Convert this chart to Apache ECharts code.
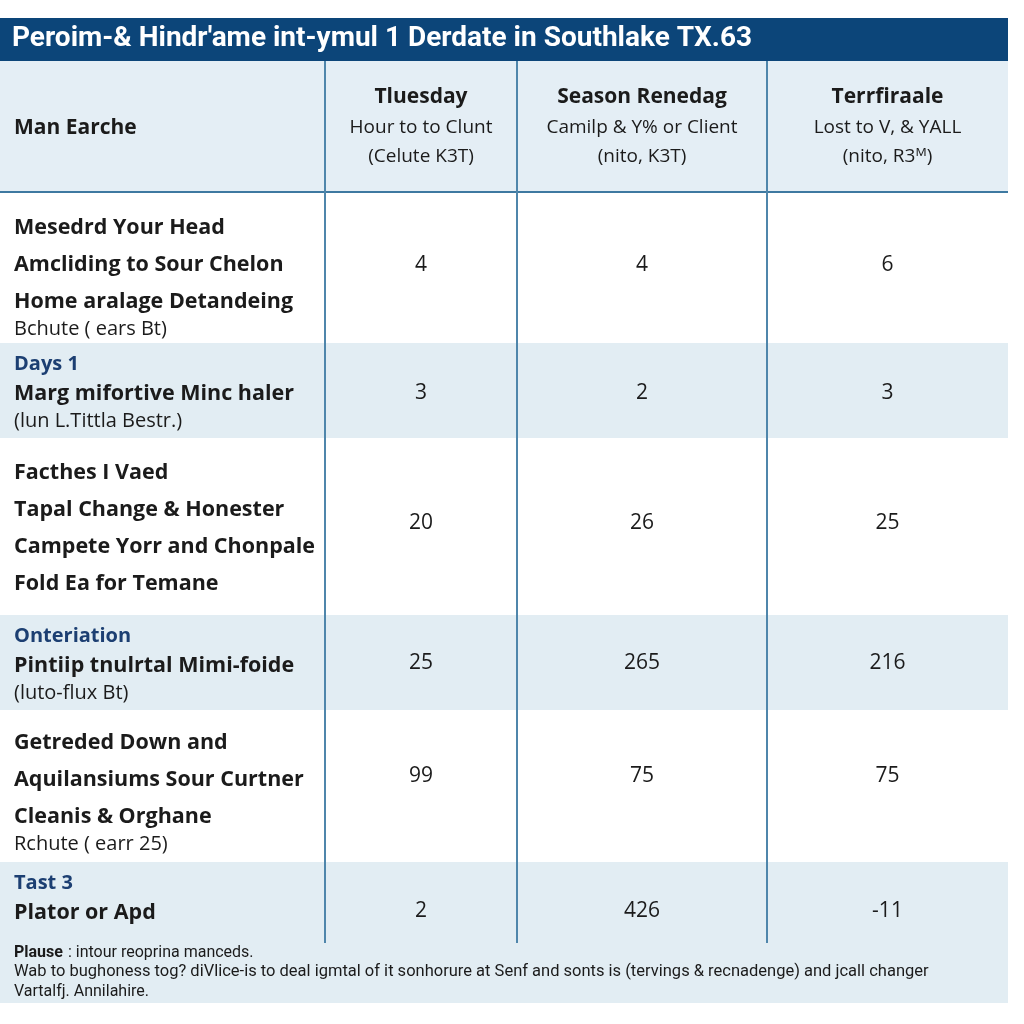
<!DOCTYPE html>
<html>
<head>
<meta charset="utf-8">
<script src="https://cdn.jsdelivr.net/npm/echarts@6/dist/echarts.min.js"></script>
<style>html,body{margin:0;padding:0;background:#fff}#c{width:1024px;height:1024px}</style>
</head>
<body>
<div id="c"></div>
<script>
// ---------- DATA ----------
const titleText = "Peroim-& Hindr'ame int-ymul 1 Derdate in Southlake TX.63";
const headerLabel = 'Man Earche';
const colNames = ['Tluesday', 'Season Renedag', 'Terrfiraale'];
const colUnits = ['Hour to to Clunt', 'Camilp & Y% or Client', 'Lost to V, & YALL'];
const colCodes = ['(Celute K3T)', '(nito, K3T)', '(nito, R3ᴹ)'];
const rowCategories = ['', 'Days 1', '', 'Onteriation', '', 'Tast 3'];
const rowLines = [
  ['Mesedrd Your Head', 'Amcliding to Sour Chelon', 'Home aralage Detandeing'],
  ['Marg mifortive Minc haler'],
  ['Facthes I Vaed', 'Tapal Change & Honester', 'Campete Yorr and Chonpale', 'Fold Ea for Temane'],
  ['Pintiip tnulrtal Mimi-foide'],
  ['Getreded Down and', 'Aquilansiums Sour Curtner', 'Cleanis & Orghane'],
  ['Plator or Apd']
];
const rowNotes = ['Bchute ( ears Bt)', '(lun L.Tittla Bestr.)', '', '(luto-flux Bt)', 'Rchute ( earr 25)', ''];
const tuesdayValues = [4, 3, 20, 25, 99, 2];
const seasonValues = [4, 2, 26, 265, 75, 426];
const terrValues = [6, 3, 25, 216, 75, -11];
const footLead = 'Plause';
const footLines = [
  ' : intour reoprina manceds.',
  'Wab to bughoness tog? diVlice-is to deal igmtal of it sonhorure at Senf and sonts is (tervings & recnadenge) and jcall changer',
  'Vartalfj. Annilahire.'
];

// ---------- LAYOUT ----------
const L = {
  colEdges: [0, 325, 517, 767, 1008],
  rowEdges: [192, 343, 438, 615, 710, 862, 945],
  valueY: [265, 393, 523, 663, 776, 911],
  firstLine: [36, 21, 35, 21, 33, 21]
};
const C = {
  title: '#0c4579', header: '#e4eef5', band: '#e2edf3', white: '#ffffff',
  line: '#4f86ab', text: '#1b1b1b', cat: '#1c3f72'
};
const SANS = '"Open Sans", "Noto Sans", sans-serif';
const NARROW = '"Liberation Sans Narrow", "Roboto", sans-serif';

const allValues = [tuesdayValues, seasonValues, terrValues];
const valueData = [];
allValues.forEach((arr, c) => arr.forEach((v, r) => valueData.push([c, r, v])));
const rowData = rowLines.map((_, r) => [r]);

function txt(x, y, text, font, fill, align) {
  return { type: 'text', style: { x, y, text, font, fill, align: align || 'left', verticalAlign: 'middle', textAlign: align || 'left', textVerticalAlign: 'middle' } };
}

const chart = echarts.init(document.getElementById('c'));
const graphics = [];
// title bar
graphics.push({ type: 'rect', shape: { x: 0, y: 18, width: 1008, height: 43 }, style: { fill: C.title } });
graphics.push(txt(12, 39, titleText, 'bold 28px ' + NARROW, '#ffffff'));
// header
graphics.push({ type: 'rect', shape: { x: 0, y: 61, width: 1008, height: 131 }, style: { fill: C.header } });
graphics.push(txt(14, 128, headerLabel, 'bold 21px ' + SANS, C.text));
colNames.forEach((n, i) => {
  const cx = (L.colEdges[i + 1] + L.colEdges[i + 2]) / 2;
  graphics.push(txt(cx, 97, n, 'bold 21px ' + SANS, C.text, 'center'));
  graphics.push(txt(cx, 128, colUnits[i], '19px ' + SANS, C.text, 'center'));
  graphics.push(txt(cx, 157, colCodes[i], '19px ' + SANS, C.text, 'center'));
});
// footer background
graphics.push({ type: 'rect', shape: { x: 0, y: 945, width: 1008, height: 58 }, style: { fill: C.band } });
graphics.push(txt(14, 953, footLead, 'bold 16px ' + NARROW, C.text));
graphics.push(txt(64, 953, footLines[0], '16px ' + NARROW, C.text));
graphics.push(txt(14, 972, footLines[1], '16.5px ' + NARROW, C.text));
graphics.push(txt(14, 992, footLines[2], '16px ' + NARROW, C.text));
// grid lines on top
const lines = [];
lines.push({ type: 'line', z: 100, shape: { x1: 0, y1: 192, x2: 1008, y2: 192 }, style: { stroke: '#3e79a1', lineWidth: 2 } });
[1, 2, 3].forEach(i => lines.push({ type: 'line', z: 100, shape: { x1: L.colEdges[i], y1: 61, x2: L.colEdges[i], y2: 943 }, style: { stroke: C.line, lineWidth: 2 } }));

chart.setOption({
  animation: false,
  backgroundColor: '#ffffff',
  grid: { left: 0, top: 0, width: 1024, height: 1024 },
  xAxis: { type: 'value', min: 0, max: 1024, show: false },
  yAxis: { type: 'value', min: 0, max: 1024, inverse: true, show: false },
  graphic: { elements: graphics.concat(lines) },
  series: [
    {
      type: 'custom', z: 1, data: rowData, silent: true,
      renderItem: function (params, api) {
        const r = api.value(0);
        const top = L.rowEdges[r], bottom = L.rowEdges[r + 1];
        const p0 = api.coord([0, top]);
        const p1 = api.coord([1008, bottom]);
        const children = [{ type: 'rect', shape: { x: p0[0], y: p0[1], width: p1[0] - p0[0], height: p1[1] - p0[1] }, style: { fill: r % 2 ? C.band : C.white } }];
        let y = top + L.firstLine[r];
        const x = api.coord([14, 0])[0];
        if (rowCategories[r]) {
          children.push(txt(x, api.coord([0, y])[1], rowCategories[r], 'bold 20px ' + SANS, C.cat));
          y += 30;
        }
        rowLines[r].forEach((t, k) => {
          if (k > 0) y += 37;
          children.push(txt(x, api.coord([0, y])[1], t, 'bold 21.5px ' + SANS, C.text));
        });
        if (rowNotes[r]) {
          y += 27;
          children.push(txt(x, api.coord([0, y])[1], rowNotes[r], '20px ' + SANS, C.text));
        }
        return { type: 'group', children };
      }
    },
    {
      type: 'custom', z: 2, data: valueData, silent: true,
      renderItem: function (params, api) {
        const c = api.value(0), r = api.value(1), v = api.value(2);
        const cx = (L.colEdges[c + 1] + L.colEdges[c + 2]) / 2;
        const p = api.coord([cx, L.valueY[r]]);
        return txt(p[0], p[1], String(v), '21px ' + SANS, C.text, 'center');
      }
    }
  ]
});
</script>
</body>
</html>
